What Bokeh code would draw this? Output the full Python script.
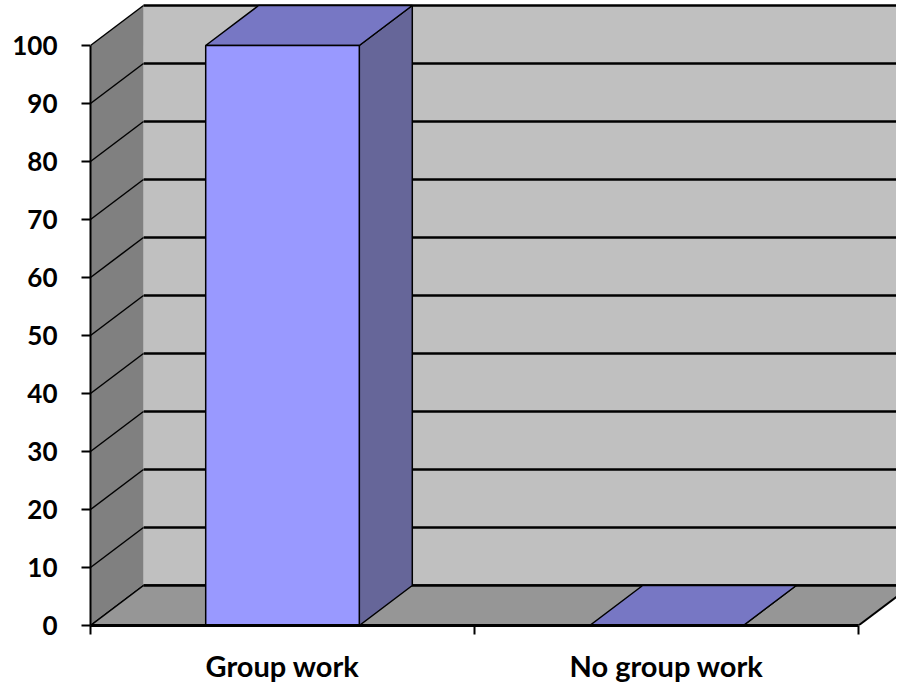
from bokeh.plotting import figure
from bokeh.models import Range1d, FixedTicker
from bokeh.embed import file_html
from bokeh.resources import INLINE

# ---- data ----
categories = ["Group work", "No group work"]
values = [100, 0]
y_ticks = [0, 10, 20, 30, 40, 50, 60, 70, 80, 90, 100]

# ---- 3D styling (depth offsets in data units) ----
DX = 0.138
DY = 6.9
BAR_W = 0.4
YMAX = 100
N = len(categories)

FONT = "Lato"

p = figure(width=896, height=686, output_backend="svg", toolbar_location=None,
           x_range=Range1d(0, 806 / 384), y_range=Range1d(0, 625 / 5.8),
           min_border_left=90, min_border_right=0, min_border_top=0,
           min_border_bottom=61)
p.outline_line_color = None
p.background_fill_color = "white"
p.border_fill_color = "white"
p.xgrid.visible = False
p.ygrid.visible = False

# back wall
p.quad(left=DX, right=N + DX, bottom=DY, top=YMAX + DY,
       fill_color="#C0C0C0", line_color=None)
# back wall gridlines
p.segment(x0=[DX] * len(y_ticks), x1=[N + DX] * len(y_ticks),
          y0=[t + DY for t in y_ticks], y1=[t + DY for t in y_ticks],
          line_color="black", line_width=2.5)
# side wall
p.patch([0, 0, DX, DX], [0, YMAX, YMAX + DY, DY], fill_color="#808080",
        line_color=None)
p.segment(x0=[0] * len(y_ticks), x1=[DX] * len(y_ticks),
          y0=y_ticks, y1=[t + DY for t in y_ticks],
          line_color="black", line_width=1.5)
# floor
p.patch([0, N, N + DX, DX], [0, 0, DY, DY], fill_color="#969696",
        line_color=None)
p.segment(x0=[DX], x1=[N + DX], y0=[DY], y1=[DY], line_color="black", line_width=2.5)
p.segment(x0=[0], x1=[DX], y0=[0], y1=[DY], line_color="black", line_width=1.5)
p.segment(x0=[N], x1=[N + DX], y0=[0], y1=[DY], line_color="black", line_width=2)

# bars
for i, v in enumerate(values):
    x0 = i + 0.5 - BAR_W / 2
    x1 = i + 0.5 + BAR_W / 2
    p.patch([x1, x1, x1 + DX, x1 + DX], [0, v, v + DY, DY],
            fill_color="#666699", line_color="black", line_width=1.5)
    p.patch([x0, x1, x1 + DX, x0 + DX], [v, v, v + DY, v + DY],
            fill_color="#7777C4", line_color="black", line_width=1.5)
    if v > 0:
        p.quad(left=x0, right=x1, bottom=0, top=v,
               fill_color="#9999FF", line_color="black", line_width=1.5)

# y axis
ya = p.yaxis[0]
ya.ticker = FixedTicker(ticks=y_ticks)
ya.bounds = (0, YMAX)
ya.axis_line_width = 2
ya.major_tick_line_width = 2
ya.major_tick_out = 9
ya.major_tick_in = 0
ya.minor_tick_line_color = None
ya.major_label_standoff = 24
ya.major_label_text_font = FONT
ya.major_label_text_font_style = "bold"
ya.major_label_text_font_size = "26px"
ya.major_label_text_color = "black"

# x axis
xa = p.xaxis[0]
centers = [i + 0.5 for i in range(N)]
xa.ticker = FixedTicker(ticks=centers, minor_ticks=list(range(N + 1)))
xa.major_label_overrides = {c: lab for c, lab in zip(centers, categories)}
xa.bounds = (0, N)
xa.axis_line_width = 3
xa.major_tick_line_color = None
xa.minor_tick_line_width = 2
xa.minor_tick_out = 9
xa.minor_tick_in = 0
xa.major_label_standoff = 13
xa.major_label_text_font = FONT
xa.major_label_text_font_style = "bold"
xa.major_label_text_font_size = "29px"
xa.major_label_text_color = "black"

open("out.html", "w").write(file_html(p, INLINE))
